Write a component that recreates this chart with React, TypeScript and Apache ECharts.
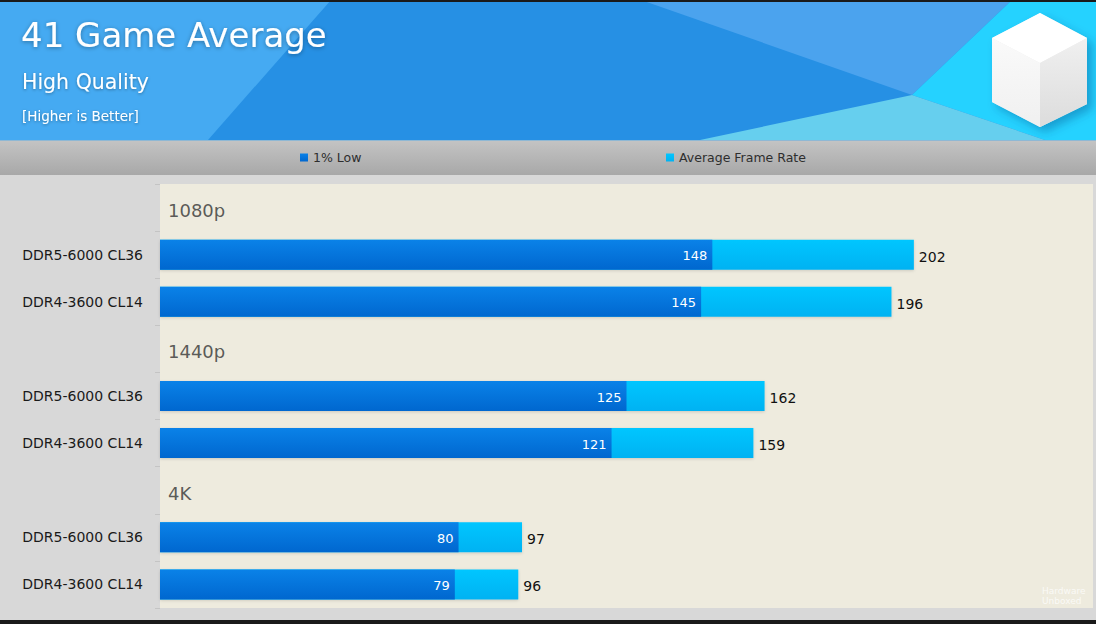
import React, { useEffect, useRef } from "react";
import * as echarts from "echarts";

const categories = [
  "1080p",
  "DDR5-6000 CL36",
  "DDR4-3600 CL14",
  "1440p",
  "DDR5-6000 CL36",
  "DDR4-3600 CL14",
  "4K",
  "DDR5-6000 CL36",
  "DDR4-3600 CL14",
];
const headerRows = [0, 3, 6];
const lowValues = [null, 148, 145, null, 125, 121, null, 80, 79];
const avgValues = [null, 202, 196, null, 162, 159, null, 97, 96];
const seriesNames = ["1% Low", "Average Frame Rate"];

const FONT = "DejaVu Sans";

export default function App() {
  const ref = useRef<HTMLDivElement>(null);
  useEffect(() => {
    document.body.style.margin = "0";
    const chart = echarts.init(ref.current!, null, { renderer: "svg" });
    const grad = (a: string, b: string) => ({
      type: "linear",
      x: 0,
      y: 0,
      x2: 0,
      y2: 1,
      colorStops: [
        { offset: 0, color: a },
        { offset: 1, color: b },
      ],
    });
    const legendText = { fontSize: 12.5, color: "#2E2E2E", fontFamily: FONT };
    const option: any = {
      animation: false,
      backgroundColor: "#D8D8D8",
      textStyle: { fontFamily: FONT },
      grid: {
        left: 160,
        right: 3,
        top: 184,
        bottom: 16,
        show: true,
        backgroundColor: "#EEEBDE",
        borderWidth: 0,
        containLabel: false,
      },
      legend: [
        {
          data: [seriesNames[0]],
          left: 300,
          top: 151,
          padding: 0,
          icon: "rect",
          itemWidth: 8,
          itemHeight: 8,
          itemGap: 6,
          textStyle: legendText,
          selectedMode: false,
        },
        {
          data: [seriesNames[1]],
          left: 666,
          top: 151,
          padding: 0,
          icon: "rect",
          itemWidth: 8,
          itemHeight: 8,
          itemGap: 6,
          textStyle: legendText,
          selectedMode: false,
        },
      ],
      xAxis: {
        type: "value",
        min: 0,
        max: 250,
        show: false,
        splitLine: { show: false },
      },
      yAxis: {
        type: "category",
        inverse: true,
        data: categories,
        axisLine: { show: false },
        axisTick: { show: true, length: 5, lineStyle: { color: "#C4C4C4" } },
        axisLabel: {
          margin: 17,
          fontSize: 14,
          color: "#1A1A1A",
          fontFamily: FONT,
          padding: [2, 0, 0, 0],
          formatter: (v: string, i: number) => (headerRows.includes(i) ? "" : v),
        },
      },
      series: [
        {
          name: seriesNames[1],
          type: "bar",
          data: avgValues,
          barWidth: 30,
          barGap: "-100%",
          itemStyle: {
            color: grad("#00C6FF", "#00B2F2"),
            shadowBlur: 3,
            shadowColor: "rgba(0,0,0,0.15)",
            shadowOffsetY: 1,
          },
          label: {
            show: true,
            position: "right",
            distance: 5,
            fontSize: 14,
            color: "#111",
            fontFamily: FONT,
            offset: [0, 2],
          },
          z: 2,
        },
        {
          name: seriesNames[0],
          type: "bar",
          data: lowValues,
          barWidth: 30,
          barGap: "-100%",
          itemStyle: { color: grad("#0A82E8", "#0067CF") },
          label: {
            show: true,
            position: "insideRight",
            distance: 5,
            fontSize: 13,
            color: "#FFFFFF",
            fontFamily: FONT,
            offset: [0, 1],
          },
          z: 3,
        },
        {
          type: "scatter",
          data: headerRows.map((r) => [0, r]),
          symbolSize: 0,
          silent: true,
          label: {
            show: true,
            position: "right",
            distance: 8,
            fontSize: 18,
            color: "#333",
            fontFamily: FONT,
            offset: [0, 3],
            formatter: (p: any) => categories[p.data[1]],
          },
          z: 4,
        },
      ],
      graphic: [
        // header base
        { type: "rect", shape: { x: 0, y: 0, width: 1096, height: 140 }, style: { fill: "#2690E4" }, silent: true },
        { type: "polygon", shape: { points: [[0, 0], [331, 0], [208, 140], [0, 140]] }, style: { fill: "#45AAF2" }, silent: true },
        { type: "polygon", shape: { points: [[641, 0], [1012, 0], [912, 95]] }, style: { fill: "#4BA3EE" }, silent: true },
        { type: "polygon", shape: { points: [[1012, 0], [1096, 0], [1096, 140], [1045, 140], [912, 95]] }, style: { fill: "#25D2FF" }, silent: true },
        { type: "polygon", shape: { points: [[700, 140], [912, 95], [1045, 140]] }, style: { fill: "#66CFEE" }, silent: true },
        { type: "rect", shape: { x: 0, y: 0, width: 1096, height: 2 }, style: { fill: "#1A1A1A" }, silent: true },
        // cube
        {
          type: "polygon",
          shape: { points: [[992, 38], [1040, 13], [1087, 38], [1087, 104], [1040, 127], [992, 102]] },
          style: { fill: "#EEEEEE", shadowBlur: 10, shadowColor: "rgba(0,60,120,0.35)", shadowOffsetX: 5, shadowOffsetY: 5 },
          silent: true,
        },
        { type: "polygon", shape: { points: [[992, 38], [1040, 13], [1087, 38], [1040, 63]] }, style: { fill: "#FFFFFF" }, silent: true },
        { type: "polygon", shape: { points: [[992, 38], [1040, 63], [1040, 127], [992, 102]] }, style: { fill: grad("#FAFAFA", "#F0F0F0") }, silent: true },
        { type: "polygon", shape: { points: [[1040, 63], [1087, 38], [1087, 104], [1040, 127]] }, style: { fill: grad("#F0F0F0", "#DCDCDC") }, silent: true },
        // titles
        {
          type: "text",
          x: 21,
          y: 18,
          style: {
            text: "41 Game Average",
            fontSize: 34,
            fontFamily: FONT,
            fill: "#FFFFFF",
            textShadowBlur: 4,
            textShadowColor: "rgba(0,0,0,0.35)",
            textShadowOffsetY: 1,
          },
          silent: true,
        },
        {
          type: "text",
          x: 22,
          y: 71,
          style: {
            text: "High Quality",
            fontSize: 20.5,
            fontFamily: FONT,
            fill: "#FFFFFF",
            textShadowBlur: 3,
            textShadowColor: "rgba(0,0,0,0.35)",
            textShadowOffsetY: 1,
          },
          silent: true,
        },
        {
          type: "text",
          x: 22,
          y: 109,
          style: {
            text: "[Higher is Better]",
            fontSize: 13.5,
            fontFamily: FONT,
            fill: "#FFFFFF",
            textShadowBlur: 3,
            textShadowColor: "rgba(0,0,0,0.35)",
            textShadowOffsetY: 1,
          },
          silent: true,
        },
        // legend band
        { type: "rect", shape: { x: 0, y: 140, width: 1096, height: 35 }, style: { fill: grad("#C4C4C4", "#A8A8A8") }, silent: true },
        { type: "rect", shape: { x: 0, y: 140, width: 1096, height: 1 }, style: { fill: "#8FB8D4" }, silent: true },
        // watermark
        {
          type: "text",
          x: 1042,
          y: 586,
          style: {
            text: "Hardware\nUnboxed",
            fontSize: 9,
            lineHeight: 10,
            fontFamily: FONT,
            fill: "rgba(255,255,255,0.75)",
          },
          silent: true,
        },
        { type: "rect", shape: { x: 0, y: 620, width: 1096, height: 4 }, style: { fill: "#1A1A1A" }, silent: true },
      ],
    };
    chart.setOption(option);
    return () => chart.dispose();
  }, []);
  return <div ref={ref} style={{ width: 1096, height: 624 }} />;
}
